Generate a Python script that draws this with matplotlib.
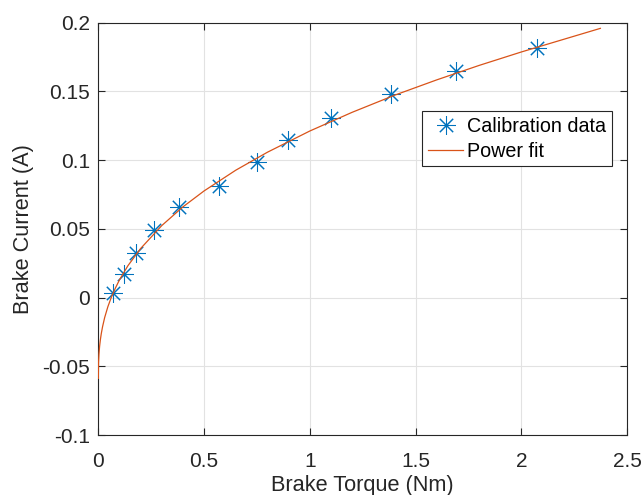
import matplotlib
matplotlib.use("Agg")
import matplotlib.pyplot as plt

# Calibration data
torque = [0.071, 0.123, 0.179, 0.264, 0.382, 0.571, 0.750, 0.896, 1.100, 1.383, 1.690, 2.074]
current = [0.003, 0.0168, 0.0326, 0.0493, 0.0658, 0.0815, 0.0985, 0.1145, 0.131, 0.1483, 0.1649, 0.1817]

# Power fit curve
fit_x = [0.0, 0.001, 0.003, 0.006, 0.01, 0.014, 0.02, 0.03, 0.045, 0.06, 0.08, 0.1, 0.14,
         0.2, 0.3, 0.4, 0.5, 0.65, 0.8, 1.0, 1.2, 1.4, 1.6, 1.8, 2.0, 2.2, 2.374]
fit_y = [-0.0588, -0.0474, -0.0412, -0.0355, -0.0303, -0.0262, -0.0212, -0.0145, -0.0067,
         -0.0004, 0.0067, 0.0129, 0.0232, 0.0357, 0.0524, 0.0660, 0.0776, 0.0927, 0.1058,
         0.1212, 0.1348, 0.1472, 0.1584, 0.1689, 0.1787, 0.1879, 0.1959]

xticks = [0, 0.5, 1, 1.5, 2, 2.5]
xtick_labels = ["0", "0.5", "1", "1.5", "2", "2.5"]
yticks = [-0.1, -0.05, 0, 0.05, 0.1, 0.15, 0.2]
ytick_labels = ["-0.1", "-0.05", "0", "0.05", "0.1", "0.15", "0.2"]

plt.rcParams['font.family'] = ['Liberation Sans', 'DejaVu Sans']

fig = plt.figure(figsize=(6.41, 4.95), dpi=100)
ax = fig.add_axes([0.1534, 0.1212, 0.8248, 0.8329])

axis_col = '#262626'
ax.plot(torque, current, linestyle='none', marker=(8, 2, 0), markersize=13.5,
        markeredgewidth=0.75, color='#0072BD', label='Calibration data', zorder=3)
ax.plot(fit_x, fit_y, color='#D95319', linewidth=0.9, label='Power fit', zorder=4)

ax.set_xlim(0, 2.5)
ax.set_ylim(-0.1, 0.2)
ax.set_xticks(xticks)
ax.set_xticklabels(xtick_labels)
ax.set_yticks(yticks)
ax.set_yticklabels(ytick_labels)

ax.grid(True, color='#e2e2e2', linewidth=0.8)
ax.set_axisbelow(True)
for s in ax.spines.values():
    s.set_color(axis_col)
    s.set_linewidth(0.8)
ax.tick_params(direction='in', top=True, right=True, length=5, width=0.8,
               colors=axis_col, labelsize=15, labelcolor=axis_col)
ax.tick_params(axis='x', pad=12.5)
ax.tick_params(axis='y', pad=6)

ax.set_xlabel('Brake Torque (Nm)', fontsize=15.7, color=axis_col)
ax.set_ylabel('Brake Current (A)', fontsize=15.7, color=axis_col)
ax.xaxis.set_label_coords(0.5, -0.098)
ax.yaxis.set_label_coords(-0.122, 0.5)

leg = ax.legend(loc='upper left', bbox_to_anchor=(0.612, 0.7866), fontsize=14.2,
                frameon=True, fancybox=False, edgecolor=axis_col, framealpha=1,
                borderpad=0.3, handlelength=1.8, handletextpad=0.2, labelspacing=0.3,
                borderaxespad=0)
leg.get_frame().set_linewidth(0.8)

fig.savefig('out.png', dpi=100)
